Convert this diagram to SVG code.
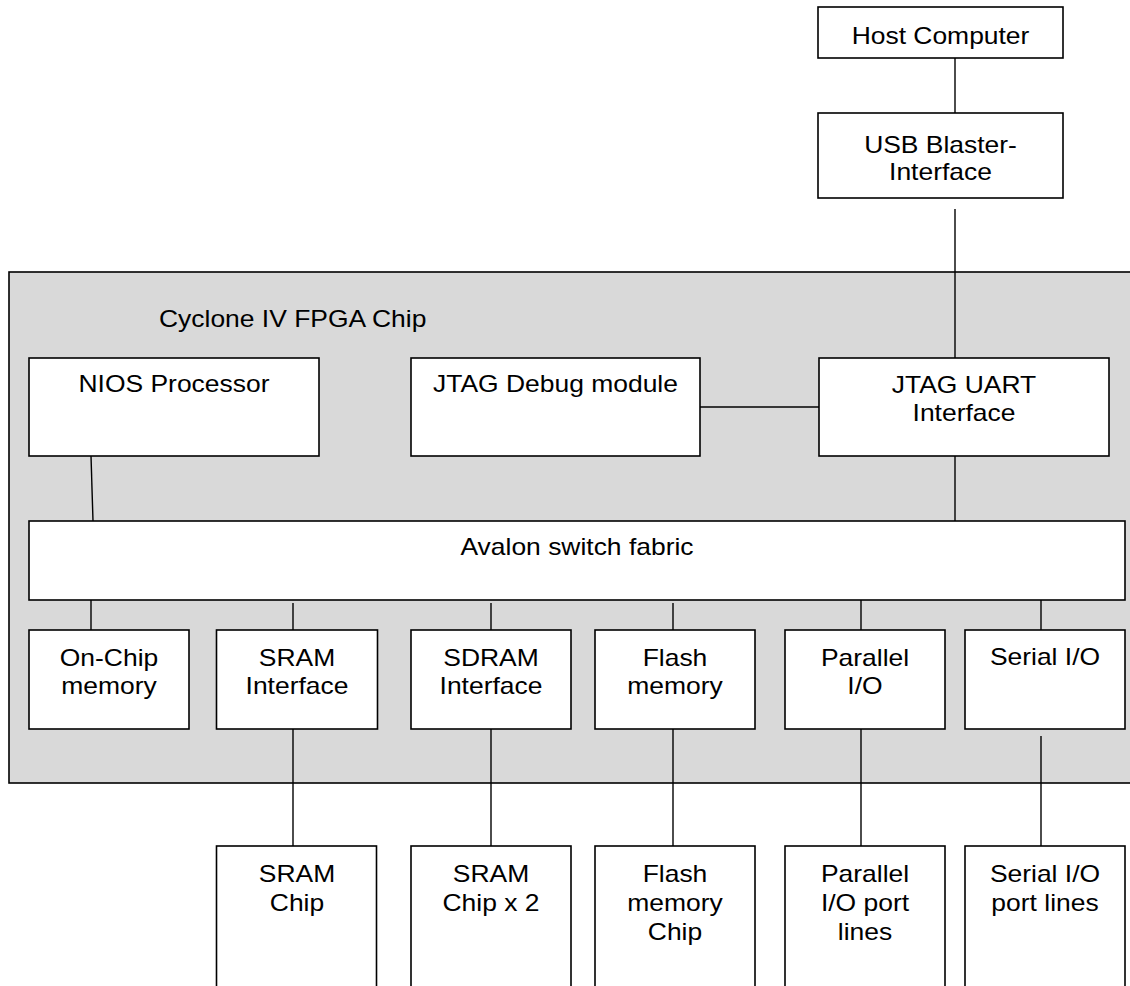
<svg xmlns="http://www.w3.org/2000/svg" width="1130" height="986" viewBox="0 0 1130 986">
<style>
.box{fill:#fff;stroke:#000;stroke-width:1.6}
.chip{fill:#d9d9d9;stroke:#000;stroke-width:1.6}
.ln{stroke:#000;stroke-width:1.4;fill:none}
text{font-family:"Liberation Sans",Arial,sans-serif;font-size:23px;fill:#000}
.c{text-anchor:middle}
</style>
<rect width="1130" height="986" fill="#fff"/>
<g id="fpga">
<rect class="chip" x="9" y="272" width="1140" height="511"/>
<text transform="translate(159,327) scale(1.15,1)">Cyclone IV FPGA Chip</text>
</g>
<g id="connectors">
<line class="ln" x1="955" y1="58" x2="955" y2="113"/>
<line class="ln" x1="955" y1="209" x2="955" y2="358"/>
<line class="ln" x1="700" y1="407" x2="819" y2="407"/>
<line class="ln" x1="955" y1="456" x2="955" y2="521"/>
<line class="ln" x1="91" y1="456" x2="93" y2="521"/>
<line class="ln" x1="91" y1="600" x2="91" y2="630"/>
<line class="ln" x1="293" y1="603" x2="293" y2="633"/>
<line class="ln" x1="491" y1="603" x2="491" y2="633"/>
<line class="ln" x1="673" y1="603" x2="673" y2="633"/>
<line class="ln" x1="861" y1="600" x2="861" y2="630"/>
<line class="ln" x1="1041" y1="600" x2="1041" y2="630"/>
<line class="ln" x1="293" y1="729" x2="293" y2="846"/>
<line class="ln" x1="491" y1="729" x2="491" y2="846"/>
<line class="ln" x1="673" y1="729" x2="673" y2="846"/>
<line class="ln" x1="861" y1="729" x2="861" y2="846"/>
<line class="ln" x1="1041" y1="736" x2="1041" y2="853"/>
</g>
<g id="host">
<rect class="box" x="818" y="7" width="245" height="51"/>
<text class="c" transform="translate(940.5,44) scale(1.15,1)">Host Computer</text>
</g>
<g id="usb">
<rect class="box" x="818" y="113" width="245" height="85"/>
<text class="c" transform="translate(940.5,153) scale(1.15,1)">USB Blaster-</text>
<text class="c" transform="translate(940.5,180) scale(1.15,1)">Interface</text>
</g>
<g id="nios">
<rect class="box" x="29" y="358" width="290" height="98"/>
<text class="c" transform="translate(174,392) scale(1.15,1)">NIOS Processor</text>
</g>
<g id="jtagdebug">
<rect class="box" x="411" y="358" width="289" height="98"/>
<text class="c" transform="translate(555.5,392) scale(1.15,1)">JTAG Debug module</text>
</g>
<g id="jtaguart">
<rect class="box" x="819" y="358" width="290" height="98"/>
<text class="c" transform="translate(964,393) scale(1.15,1)">JTAG UART</text>
<text class="c" transform="translate(964,421) scale(1.15,1)">Interface</text>
</g>
<g id="avalon">
<rect class="box" x="29" y="521" width="1096" height="79"/>
<text class="c" transform="translate(577,555) scale(1.15,1)">Avalon switch fabric</text>
</g>
<g id="onchip">
<rect class="box" x="29" y="630" width="160" height="99"/>
<text class="c" transform="translate(109,666) scale(1.15,1)">On-Chip</text>
<text class="c" transform="translate(109,694) scale(1.15,1)">memory</text>
</g>
<g id="sramif">
<rect class="box" x="216.5" y="630" width="161" height="99"/>
<text class="c" transform="translate(297,666) scale(1.15,1)">SRAM</text>
<text class="c" transform="translate(297,694) scale(1.15,1)">Interface</text>
</g>
<g id="sdramif">
<rect class="box" x="411" y="630" width="160" height="99"/>
<text class="c" transform="translate(491,666) scale(1.15,1)">SDRAM</text>
<text class="c" transform="translate(491,694) scale(1.15,1)">Interface</text>
</g>
<g id="flashmem">
<rect class="box" x="595" y="630" width="160" height="99"/>
<text class="c" transform="translate(675,666) scale(1.15,1)">Flash</text>
<text class="c" transform="translate(675,694) scale(1.15,1)">memory</text>
</g>
<g id="pio">
<rect class="box" x="785" y="630" width="160" height="99"/>
<text class="c" transform="translate(865,666) scale(1.15,1)">Parallel</text>
<text class="c" transform="translate(865,694) scale(1.15,1)">I/O</text>
</g>
<g id="sio">
<rect class="box" x="965" y="630" width="160" height="99"/>
<text class="c" transform="translate(1045,665) scale(1.15,1)">Serial I/O</text>
</g>
<g id="sramchip">
<rect class="box" x="216.5" y="846" width="160" height="160"/>
<text class="c" transform="translate(297,882) scale(1.15,1)">SRAM</text>
<text class="c" transform="translate(297,911) scale(1.15,1)">Chip</text>
</g>
<g id="sramchip2">
<rect class="box" x="411" y="846" width="160" height="160"/>
<text class="c" transform="translate(491,882) scale(1.15,1)">SRAM</text>
<text class="c" transform="translate(491,911) scale(1.15,1)">Chip x 2</text>
</g>
<g id="flashchip">
<rect class="box" x="595" y="846" width="160" height="160"/>
<text class="c" transform="translate(675,882) scale(1.15,1)">Flash</text>
<text class="c" transform="translate(675,911) scale(1.15,1)">memory</text>
<text class="c" transform="translate(675,940) scale(1.15,1)">Chip</text>
</g>
<g id="pioport">
<rect class="box" x="785" y="846" width="160" height="160"/>
<text class="c" transform="translate(865,882) scale(1.15,1)">Parallel</text>
<text class="c" transform="translate(865,911) scale(1.15,1)">I/O port</text>
<text class="c" transform="translate(865,940) scale(1.15,1)">lines</text>
</g>
<g id="sioport">
<rect class="box" x="965" y="846" width="160" height="160"/>
<text class="c" transform="translate(1045,882) scale(1.15,1)">Serial I/O</text>
<text class="c" transform="translate(1045,911) scale(1.15,1)">port lines</text>
</g>
</svg>
